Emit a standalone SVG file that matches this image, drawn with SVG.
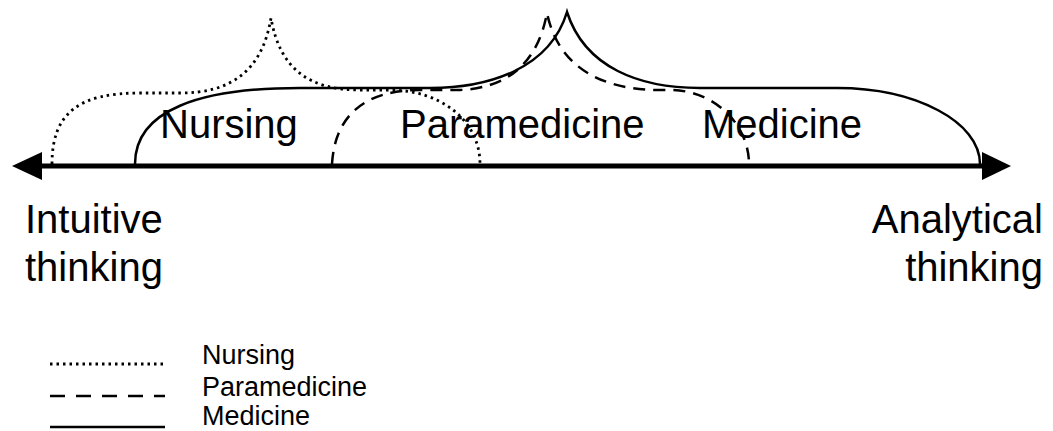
<svg xmlns="http://www.w3.org/2000/svg" width="1053" height="431" viewBox="0 0 1053 431">
  <style>
    .t { font-family: "Liberation Sans", Arial, sans-serif; fill: #000; }
    .big { font-size: 40px; }
    .leg { font-size: 27px; }
    .brace { fill: none; stroke: #000; stroke-width: 2.5; }
    .dot { stroke-dasharray: 2.5 4; stroke-width: 2.8; }
    .dash { stroke-dasharray: 12 8; }
  </style>
  <rect width="1053" height="431" fill="#fff"/>
  <g id="axis">
    <line x1="40" y1="166" x2="984" y2="166" stroke="#000" stroke-width="5"/>
    <polygon points="12,166 42,152 42,180" fill="#000"/>
    <polygon points="1011,166 982,152 982,180" fill="#000"/>
  </g>
  <g id="braces">
    <path id="brace-nursing" class="brace dot" d="M52,164 C52,112 80,93 140,93 L180,93 C230,93 262,72 271,18 C280,70 310,90 360,90 L390,90 C440,90 480,120 480,164"/>
    <path id="brace-paramedicine" class="brace dash" d="M332,164 C335,115 365,90 420,90 L460,90 C505,88 537,66 547,13 C558,66 600,90 660,90 L670,90 C715,90 749,125 749,164"/>
    <path id="brace-medicine" class="brace" d="M135,164 C135,110 200,88 300,88 L430,88 C490,88 550,68 567,12 C585,68 640,88 700,88 L837,88 C916,88 980,122 980,164"/>
  </g>
  <g id="labels">
    <text class="t big" x="160" y="138">Nursing</text>
    <text class="t big" x="400" y="138">Paramedicine</text>
    <text class="t big" x="702" y="138">Medicine</text>
    <text class="t big" x="25" y="233">Intuitive</text>
    <text class="t big" x="25" y="281">thinking</text>
    <text class="t big" x="1043" y="233" text-anchor="end">Analytical</text>
    <text class="t big" x="1043" y="281" text-anchor="end">thinking</text>
  </g>
  <g id="legend">
    <line class="brace dot" x1="50" y1="364" x2="165" y2="364"/>
    <line class="brace" x1="50" y1="396" x2="165" y2="396" stroke-width="3" stroke-dasharray="15 11"/>
    <line class="brace" x1="50" y1="427" x2="165" y2="427" stroke-width="3"/>
    <text class="t leg" x="202" y="364">Nursing</text>
    <text class="t leg" x="202" y="396">Paramedicine</text>
    <text class="t leg" x="202" y="425">Medicine</text>
  </g>
</svg>
